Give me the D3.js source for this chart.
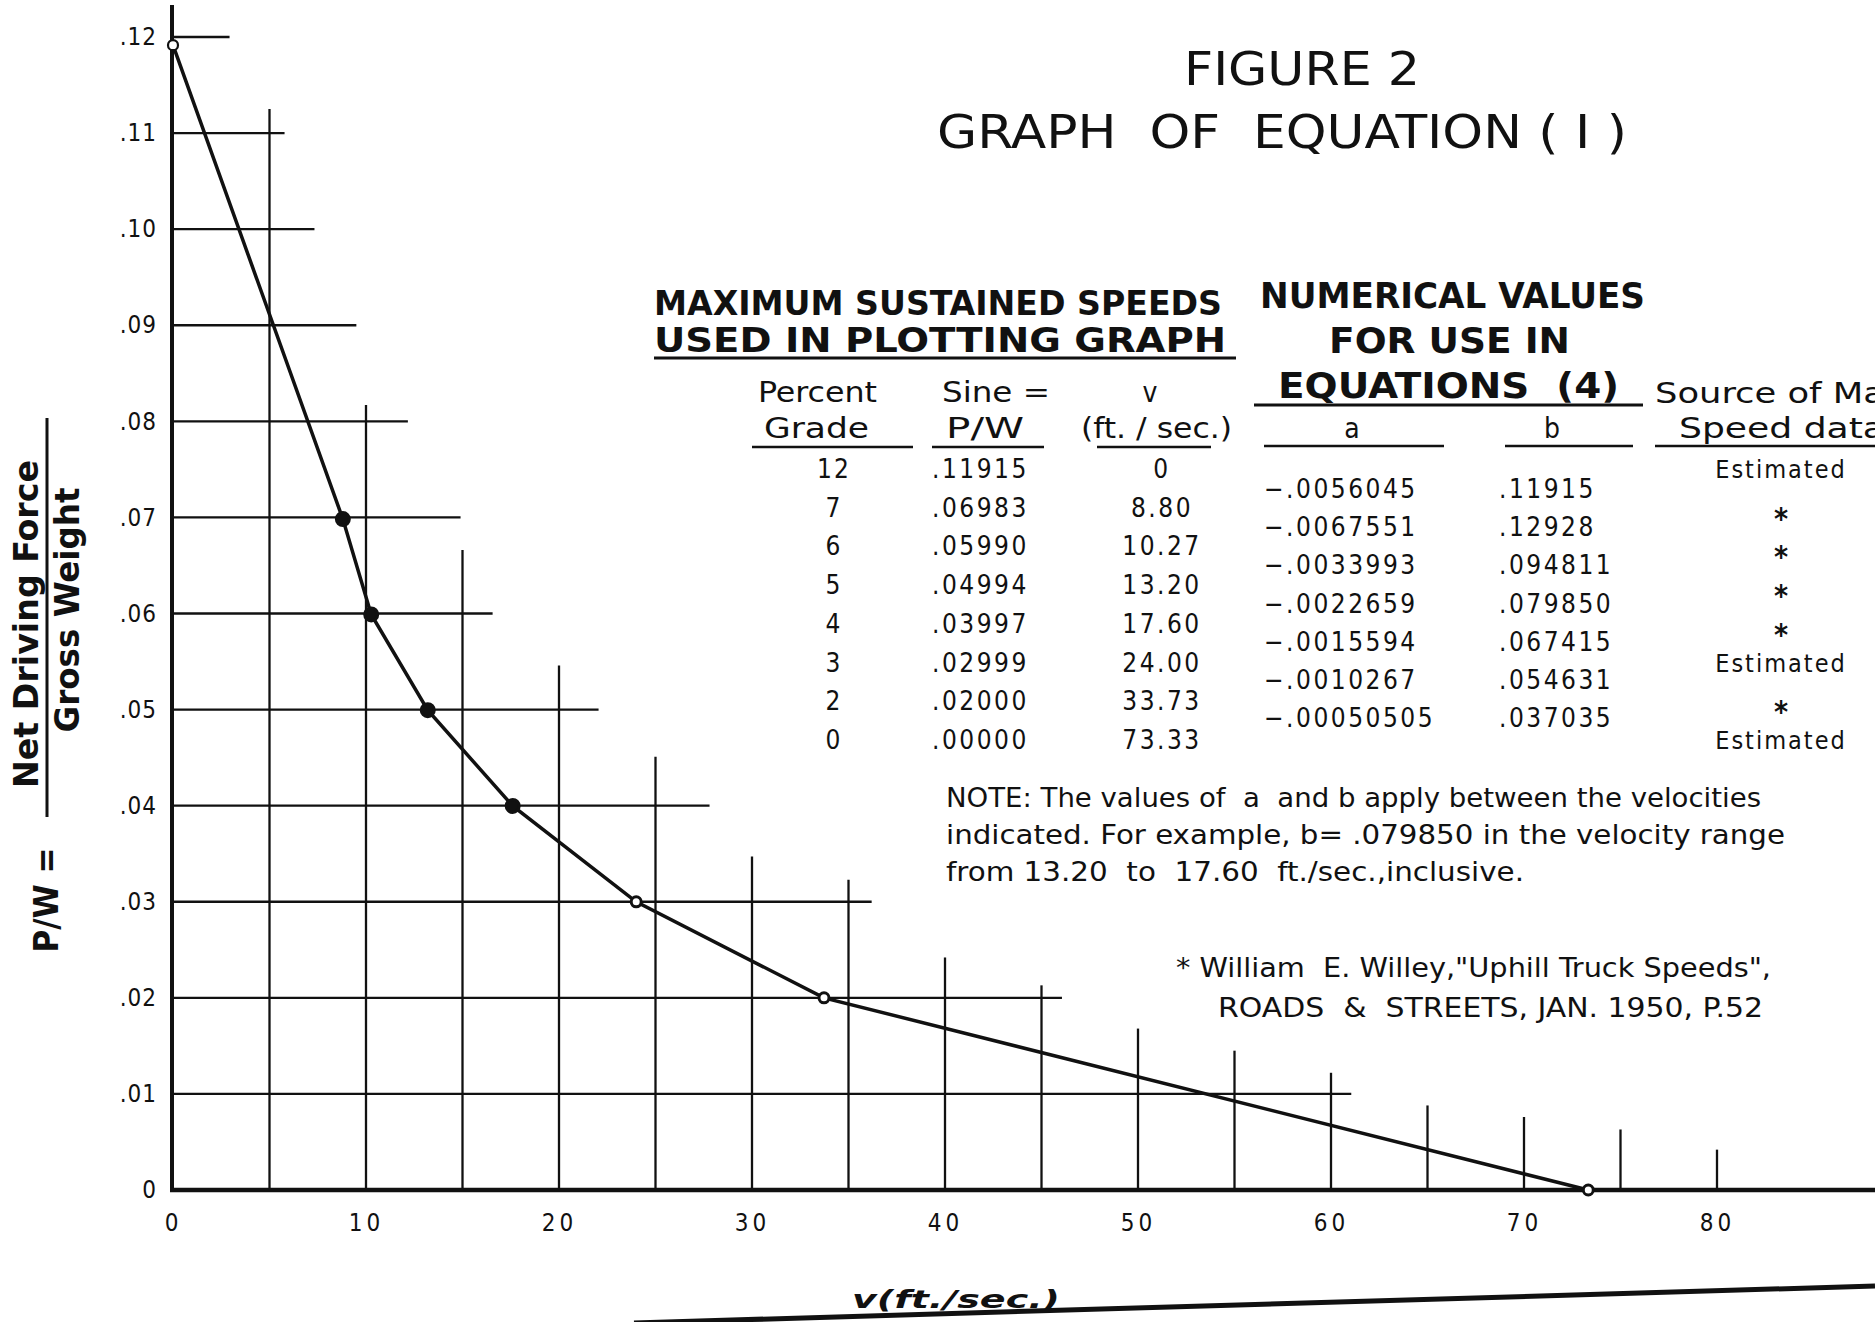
<!DOCTYPE html>
<html>
<head>
<meta charset="utf-8">
<script src="https://cdnjs.cloudflare.com/ajax/libs/d3/7.8.5/d3.min.js"></script>
<style>
  body { margin: 0; background: #fff; overflow: hidden; }
  svg { display: block; }
  text { font-family: "DejaVu Sans Condensed", "Liberation Sans Narrow", "DejaVu Sans", sans-serif; fill: #111; }
</style>
</head>
<body>
<script>
// table 1: maximum sustained speeds used in plotting graph
var grades = [12, 7, 6, 5, 4, 3, 2, 0];
var sineValues = [0.11915, 0.06983, 0.05990, 0.04994, 0.03997, 0.02999, 0.02000, 0.00000];
var sineLabels = [".11915", ".06983", ".05990", ".04994", ".03997", ".02999", ".02000", ".00000"];
var speeds = [0, 8.80, 10.27, 13.20, 17.60, 24.00, 33.73, 73.33];
var speedLabels = ["0", "8.80", "10.27", "13.20", "17.60", "24.00", "33.73", "73.33"];

// table 2: numerical values for use in equations (4)
var coefA = ["\u2212.0056045", "\u2212.0067551", "\u2212.0033993", "\u2212.0022659", "\u2212.0015594", "\u2212.0010267", "\u2212.00050505"];
var coefB = [".11915", ".12928", ".094811", ".079850", ".067415", ".054631", ".037035"];
var sources = ["Estimated", "*", "*", "*", "*", "Estimated", "*", "Estimated"];

var xTicks = [0, 10, 20, 30, 40, 50, 60, 70, 80];
var yTicks = [0, 0.01, 0.02, 0.03, 0.04, 0.05, 0.06, 0.07, 0.08, 0.09, 0.10, 0.11, 0.12];
var yTickLabels = ["0", ".01", ".02", ".03", ".04", ".05", ".06", ".07", ".08", ".09", ".10", ".11", ".12"];

// the hand drawn grid stops short: how far each line runs (data units)
var hGridLevels = [0.01, 0.02, 0.03, 0.04, 0.05, 0.06, 0.07, 0.08, 0.09, 0.10, 0.11, 0.12];
var hGridEnds = [61.05, 46.06, 36.2, 27.8, 22.05, 16.56, 14.9, 12.17, 9.5, 7.33, 5.78, 2.93];
var vGridSpeeds = [5, 10, 15, 20, 25, 30, 35, 40, 45, 50, 55, 60, 65, 70, 75, 80];
var vGridTops = [0.1125, 0.0817, 0.0666, 0.0546, 0.0451, 0.0347, 0.0323, 0.0242, 0.0213, 0.0168, 0.0145, 0.0122, 0.0088, 0.0076, 0.0063, 0.0042];

var width = 1875,
  height = 1322;

var svg = d3.select("body").append("svg")
  .attr("width", width)
  .attr("height", height);

var x = d3.scaleLinear().domain([0, 80]).range([173, 1717]);
var y = d3.scaleLinear().domain([0, 0.12]).range([1190, 37]);

function label(parent, str, px, py, o) {
  o = o || {};
  var t = parent.append("text")
    .attr("x", px)
    .attr("y", py)
    .attr("text-anchor", o.anchor || "start")
    .style("font-size", (o.size || 26) + "px")
    .style("font-weight", o.weight || "normal")
    .text(str);
  if (o.width) t.attr("textLength", o.width).attr("lengthAdjust", "spacingAndGlyphs");
  if (o.spacing) t.style("letter-spacing", o.spacing + "px");
  return t;
}

function rule(x1, x2, yy, w) {
  svg.append("line")
    .attr("x1", x1).attr("x2", x2)
    .attr("y1", yy).attr("y2", yy)
    .attr("stroke", "#111")
    .attr("stroke-width", w || 2.5);
}

// grid
var grid = svg.append("g").attr("stroke", "#111").attr("stroke-width", 2.3);

grid.selectAll(".hgrid")
  .data(hGridLevels)
  .enter().append("line")
  .attr("class", "hgrid")
  .attr("x1", x(0))
  .attr("x2", function(d, i) { return x(hGridEnds[i]); })
  .attr("y1", function(d) { return y(d); })
  .attr("y2", function(d) { return y(d); });

grid.selectAll(".vgrid")
  .data(vGridSpeeds)
  .enter().append("line")
  .attr("class", "vgrid")
  .attr("x1", function(d) { return x(d); })
  .attr("x2", function(d) { return x(d); })
  .attr("y1", y(0))
  .attr("y2", function(d, i) { return y(vGridTops[i]); });

// axes
var yAxis = svg.append("g")
  .attr("transform", "translate(" + x(0) + ",0)")
  .call(d3.axisLeft(y).tickValues(yTicks).tickFormat(function(d, i) { return yTickLabels[i]; }).tickSize(0).tickPadding(16));
yAxis.select(".domain").remove();
yAxis.selectAll("text")
  .style("font-size", "24px")
  .style("letter-spacing", "1px");

var xAxis = svg.append("g")
  .attr("transform", "translate(0," + y(0) + ")")
  .call(d3.axisBottom(x).tickValues(xTicks).tickFormat(d3.format("d")).tickSize(0).tickPadding(24));
xAxis.select(".domain").remove();
xAxis.selectAll("text")
  .style("font-size", "24px")
  .style("letter-spacing", "4px");

svg.append("line")
  .attr("x1", x(0) - 1).attr("x2", x(0) - 1)
  .attr("y1", 5).attr("y2", y(0) + 2)
  .attr("stroke", "#111").attr("stroke-width", 4);
svg.append("line")
  .attr("x1", x(0) - 3).attr("x2", width)
  .attr("y1", y(0)).attr("y2", y(0))
  .attr("stroke", "#111").attr("stroke-width", 4.5);

// curve and plotted points
var points = speeds.map(function(v, i) { return { v: v, p: sineValues[i], grade: grades[i] }; });

svg.append("path")
  .datum(points)
  .attr("fill", "none")
  .attr("stroke", "#111")
  .attr("stroke-width", 3.5)
  .attr("d", d3.line().x(function(d) { return x(d.v); }).y(function(d) { return y(d.p); }));

svg.selectAll(".pt")
  .data(points)
  .enter().append("circle")
  .attr("class", "pt")
  .attr("cx", function(d) { return x(d.v); })
  .attr("cy", function(d) { return y(d.p); })
  .attr("r", function(d) { return d.grade >= 4 && d.grade <= 7 ? 6.5 : 5; })
  .attr("fill", function(d) { return d.grade >= 4 && d.grade <= 7 ? "#111" : "#fff"; })
  .attr("stroke", "#111")
  .attr("stroke-width", function(d) { return d.grade === 12 ? 2.2 : 3; });

// y axis title
var yl = svg.append("g");
label(yl.append("g").attr("transform", "translate(38,624) rotate(-90)"), "Net Driving Force", 0, 0, { anchor: "middle", size: 33, weight: "bold", width: 328 });
label(yl.append("g").attr("transform", "translate(79,610) rotate(-90)"), "Gross Weight", 0, 0, { anchor: "middle", size: 33, weight: "bold", width: 245 });
label(yl.append("g").attr("transform", "translate(58,900) rotate(-90)"), "P/W =", 0, 0, { anchor: "middle", size: 33, weight: "bold", width: 105 });
yl.append("line")
  .attr("x1", 47).attr("x2", 47)
  .attr("y1", 418).attr("y2", 817)
  .attr("stroke", "#111").attr("stroke-width", 3);

// title
label(svg, "FIGURE 2", 1184, 85, { size: 46, width: 236 });
label(svg, "GRAPH  OF  EQUATION ( I )", 937, 148, { size: 46, width: 690 }).style("white-space", "pre");

// table 1
label(svg, "MAXIMUM SUSTAINED SPEEDS", 654, 315, { size: 34, weight: "bold", width: 568 });
label(svg, "USED IN PLOTTING GRAPH", 654, 352, { size: 34, weight: "bold", width: 572 });
rule(654, 1236, 358, 3);

label(svg, "Percent", 758, 402, { size: 28, width: 119 });
label(svg, "Grade", 764, 438, { size: 28, width: 105 });
rule(752, 913, 447);
label(svg, "Sine =", 942, 402, { size: 28, width: 108 });
label(svg, "P/W", 946, 438, { size: 28, width: 78 });
rule(932, 1044, 447);
label(svg, "v", 1150, 402, { size: 28, anchor: "middle" });
label(svg, "(ft. / sec.)", 1081, 438, { size: 28, width: 151 });
rule(1097, 1211, 447);

var rowY = function(i) { return 478 + i * 38.7; };

svg.selectAll(".grade")
  .data(grades)
  .enter().append("text")
  .attr("class", "grade")
  .attr("x", 834)
  .attr("y", function(d, i) { return rowY(i); })
  .attr("text-anchor", "middle")
  .style("font-size", "26px")
  .style("letter-spacing", "2px")
  .text(function(d) { return d; });

svg.selectAll(".sine")
  .data(sineLabels)
  .enter().append("text")
  .attr("class", "sine")
  .attr("x", 932)
  .attr("y", function(d, i) { return rowY(i); })
  .style("font-size", "26px")
  .style("letter-spacing", "2.5px")
  .text(function(d) { return d; });

svg.selectAll(".speed")
  .data(speedLabels)
  .enter().append("text")
  .attr("class", "speed")
  .attr("x", 1162)
  .attr("y", function(d, i) { return rowY(i); })
  .attr("text-anchor", "middle")
  .style("font-size", "26px")
  .style("letter-spacing", "2.5px")
  .text(function(d) { return d; });

// table 2
label(svg, "NUMERICAL VALUES", 1260, 308, { size: 35, weight: "bold", width: 385 });
label(svg, "FOR USE IN", 1329, 353, { size: 35, weight: "bold", width: 241 });
label(svg, "EQUATIONS  (4)", 1278, 398, { size: 35, weight: "bold", width: 341 }).style("white-space", "pre");
rule(1254, 1643, 405, 3);

label(svg, "a", 1352, 438, { size: 28, anchor: "middle" });
rule(1264, 1444, 446);
label(svg, "b", 1552, 438, { size: 28, anchor: "middle" });
rule(1505, 1633, 446);

label(svg, "Source of Max.", 1655, 403, { size: 28, width: 262 });
label(svg, "Speed data", 1679, 438, { size: 28, width: 206 });
rule(1655, width, 446);

var rowA = function(i) { return 498 + i * 38.2; };

svg.selectAll(".ca")
  .data(coefA)
  .enter().append("text")
  .attr("class", "ca")
  .attr("x", 1264)
  .attr("y", function(d, i) { return rowA(i); })
  .style("font-size", "26px")
  .style("letter-spacing", "2.5px")
  .text(function(d) { return d; });

svg.selectAll(".cb")
  .data(coefB)
  .enter().append("text")
  .attr("class", "cb")
  .attr("x", 1499)
  .attr("y", function(d, i) { return rowA(i); })
  .style("font-size", "26px")
  .style("letter-spacing", "2.5px")
  .text(function(d) { return d; });

svg.selectAll(".src")
  .data(sources)
  .enter().append("text")
  .attr("class", "src")
  .attr("x", 1781)
  .attr("y", function(d, i) { return rowY(i) + (d === "*" ? 12 : 0); })
  .attr("text-anchor", "middle")
  .style("font-size", function(d) { return d === "*" ? "30px" : "25px"; })
  .style("font-weight", function(d) { return d === "*" ? "bold" : "normal"; })
  .style("letter-spacing", function(d) { return d === "*" ? "0px" : "2px"; })
  .text(function(d) { return d; });

// note and reference
label(svg, "NOTE: The values of  a  and b apply between the velocities", 946, 807, { size: 26, width: 815 }).style("white-space", "pre");
label(svg, "indicated. For example, b= .079850 in the velocity range", 946, 844, { size: 26, width: 839 });
label(svg, "from 13.20  to  17.60  ft./sec.,inclusive.", 946, 881, { size: 26, width: 578 }).style("white-space", "pre");

label(svg, "* William  E. Willey,\"Uphill Truck Speeds\",", 1176, 977, { size: 26, width: 595 }).style("white-space", "pre");
label(svg, "ROADS  &  STREETS, JAN. 1950, P.52", 1218, 1017, { size: 26, width: 545 }).style("white-space", "pre");

// x axis title sits just above the scanned sheet's edge
label(svg, "v(ft./sec.)", 852, 1308, { size: 25, weight: "bold", width: 208 }).style("font-style", "italic");
svg.append("line")
  .attr("x1", 634).attr("y1", 1323)
  .attr("x2", width).attr("y2", 1286)
  .attr("stroke", "#111").attr("stroke-width", 5);
</script>
</body>
</html>
